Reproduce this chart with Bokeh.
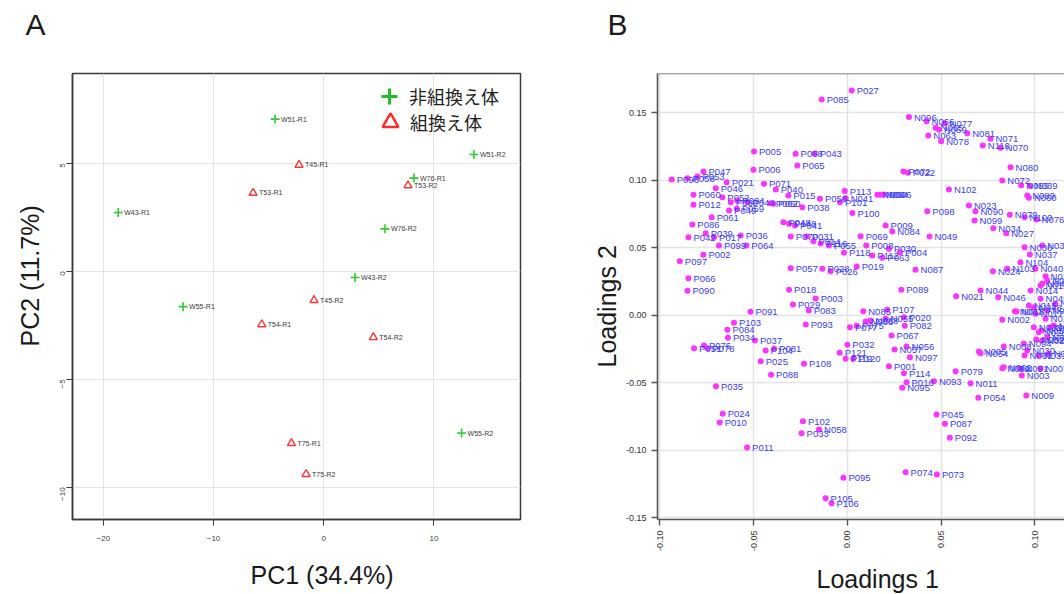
import math
from bokeh.plotting import figure
from bokeh.models import Legend, LegendItem, Range1d, FixedTicker, Span, Title
from bokeh.layouts import row
from bokeh.embed import file_html
from bokeh.resources import INLINE
from bokeh.core.properties import value

# ---------------- Panel A data (PCA scores) ----------------
nonrec_names = ["W51-R1", "W51-R2", "W76-R1", "W43-R1", "W76-R2", "W43-R2", "W55-R1", "W55-R2"]
nonrec_pc1 = [-4.41, 13.63, 8.19, -18.65, 5.56, 2.84, -12.76, 12.51]
nonrec_pc2 = [7.04, 5.40, 4.31, 2.72, 1.96, -0.29, -1.64, -7.49]

rec_names = ["T45-R1", "T53-R2", "T53-R1", "T45-R2", "T54-R1", "T54-R2", "T75-R1", "T75-R2"]
rec_pc1 = [-2.24, 7.65, -6.41, -0.88, -5.62, 4.50, -2.93, -1.60]
rec_pc2 = [4.92, 3.97, 3.62, -1.34, -2.46, -3.06, -7.96, -9.39]

legend_labels = ["非組換え体", "組換え体"]
a_xticks = [-20, -10, 0, 10]
a_yticks = [-10, -5, 0, 5]
a_xlabel = "PC1 (34.4%)"
a_ylabel = "PC2 (11.7%)"

# ---------------- Panel B data (loadings) ----------------
load_names = [
    "P027", "P085", "N096", "N066", "N077", "N065", "N069", "N063", "N078", "N081",
    "N071", "N110", "N070", "N080", "N072", "N059", "N039", "N089", "N060", "N102",
    "N023", "N090", "N099", "N079", "N100", "N076", "N034", "N027", "P098", "P005",
    "P068", "P043", "P065", "P006", "P047", "P096", "P058", "P053", "P021", "P071",
    "P046", "P040", "P060", "P015", "P012", "P052", "P080", "P094", "P044", "P062",
    "P050", "P049", "P059", "P061", "P038", "P086", "P048", "P148", "P041", "P113",
    "P056", "P101", "N041", "N004", "N064", "N006", "P100", "P072", "P022", "P009",
    "N084", "N049", "P069", "P055", "P116", "P008", "P030", "P004", "P063", "P118",
    "P112", "P019", "P028", "P026", "N087", "P089", "N021", "N044", "N046", "N024",
    "P003", "P083", "P093", "N085", "P107", "P077", "P075", "N086", "N088", "N055",
    "P020", "P082", "P067", "P032", "P121", "P119", "P120", "N057", "N056", "N097",
    "P001", "P114", "P079", "P016", "N093", "N095", "N011", "P054", "N009", "N003",
    "P045", "P087", "P092", "P074", "P073", "P095", "P105", "P106", "P102", "N058",
    "P033", "P011", "P024", "P010", "P035", "P088", "P039", "P042", "P017", "P036",
    "P099", "P064", "P002", "P097", "P066", "P090", "P091", "P103", "P084", "P034",
    "P037", "P051", "P076", "P078", "P104", "P081", "P025", "P108", "P057", "P018",
    "P029", "P070", "P031", "P014", "N103", "N104", "N013", "N012", "N015", "N018",
    "N002", "N017", "N019", "N020", "N025", "N028", "N029", "N094", "N008", "N030",
    "N031", "N032", "N092", "N091", "N033", "N035", "N036", "N037", "N038", "N040",
    "N042", "N043", "N045", "N047", "N048", "N050", "N051", "N052", "N053", "N054",
    "N005", "N061", "N062", "N007", "N014",
]
loadings1 = [
    0.0023, -0.0137, 0.0329, 0.0423, 0.0519, 0.0471, 0.0489, 0.0432, 0.0501, 0.0640,
    0.0764, 0.0723, 0.0818, 0.0871, 0.0827, 0.0928, 0.0974, 0.0960, 0.0969, 0.0542,
    0.0649, 0.0684, 0.0679, 0.0867, 0.0946, 0.1010, 0.0779, 0.0848, 0.0427, -0.0498,
    -0.0276, -0.0174, -0.0267, -0.0501, -0.0768, -0.0937, -0.0853, -0.0800, -0.0644, -0.0445,
    -0.0702, -0.0382, -0.0821, -0.0315, -0.0821, -0.0667, -0.0622, -0.0587, -0.0533, -0.0409,
    -0.0395, -0.0631, -0.0590, -0.0724, -0.0240, -0.0827, -0.0341, -0.0311, -0.0279, -0.0014,
    -0.0146, -0.0039, -0.0009, 0.0160, 0.0178, 0.0195, 0.0027, 0.0299, 0.0323, 0.0204,
    0.0240, 0.0439, 0.0071, -0.0098, -0.0142, 0.0101, 0.0222, 0.0281, 0.0187, -0.0018,
    0.0133, 0.0050, -0.0133, -0.0089, 0.0364, 0.0288, 0.0581, 0.0711, 0.0805, 0.0777,
    -0.0169, -0.0206, -0.0222, 0.0085, 0.0213, 0.0014, 0.0050, 0.0098, 0.0124, 0.0204,
    0.0302, 0.0306, 0.0236, 0.0000, -0.0041, -0.0009, 0.0032, 0.0252, 0.0316, 0.0334,
    0.0222, 0.0302, 0.0578, 0.0316, 0.0462, 0.0293, 0.0658, 0.0699, 0.0955, 0.0931,
    0.0476, 0.0521, 0.0547, 0.0311, 0.0478, -0.0021, -0.0116, -0.0084, -0.0237, -0.0151,
    -0.0244, -0.0535, -0.0665, -0.0681, -0.0701, -0.0407, -0.0756, -0.0848, -0.0711, -0.0569,
    -0.0685, -0.0539, -0.0768, -0.0894, -0.0848, -0.0853, -0.0517, -0.0605, -0.0640, -0.0637,
    -0.0493, -0.0818, -0.0765, -0.0747, -0.0436, -0.0391, -0.0462, -0.0231, -0.0302, -0.0311,
    -0.0290, -0.0302, -0.0217, -0.0181, 0.0853, 0.0924, 0.1058, 0.1031, 0.0969, 0.0903,
    0.0827, 0.1004, 0.1058, 0.1067, 0.1110, 0.1022, 0.1040, 0.0942, 0.0835, 0.0960,
    0.1022, 0.1075, 0.0827, 0.0924, 0.0995, 0.1102, 0.0946, 0.0974, 0.1040, 0.1004,
    0.1040, 0.1067, 0.1031, 0.0894, 0.0995, 0.1036, 0.1084, 0.1008, 0.1067, 0.0711,
    0.0702, 0.0946, 0.0835, 0.1031, 0.0978,
]
loadings2 = [
    0.1664, 0.1598, 0.1467, 0.1437, 0.1422, 0.1388, 0.1373, 0.1331, 0.1289, 0.1348,
    0.1307, 0.1257, 0.1240, 0.1096, 0.0998, 0.0963, 0.0959, 0.0887, 0.0870, 0.0931,
    0.0813, 0.0770, 0.0701, 0.0744, 0.0726, 0.0709, 0.0644, 0.0607, 0.0770, 0.1213,
    0.1196, 0.1198, 0.1109, 0.1077, 0.1064, 0.1005, 0.1015, 0.1027, 0.0985, 0.0973,
    0.0941, 0.0931, 0.0892, 0.0887, 0.0818, 0.0874, 0.0837, 0.0850, 0.0837, 0.0830,
    0.0825, 0.0776, 0.0788, 0.0726, 0.0800, 0.0672, 0.0689, 0.0677, 0.0664, 0.0919,
    0.0862, 0.0837, 0.0867, 0.0892, 0.0892, 0.0894, 0.0756, 0.1064, 0.1055, 0.0664,
    0.0620, 0.0583, 0.0585, 0.0516, 0.0531, 0.0516, 0.0492, 0.0467, 0.0425, 0.0462,
    0.0442, 0.0361, 0.0344, 0.0326, 0.0336, 0.0188, 0.0141, 0.0183, 0.0133, 0.0326,
    0.0124, 0.0035, -0.0069, 0.0030, 0.0040, -0.0089, -0.0079, -0.0047, -0.0039, -0.0027,
    -0.0015, -0.0079, -0.0150, -0.0219, -0.0279, -0.0323, -0.0323, -0.0254, -0.0232, -0.0311,
    -0.0378, -0.0430, -0.0415, -0.0496, -0.0489, -0.0538, -0.0504, -0.0612, -0.0595, -0.0447,
    -0.0736, -0.0804, -0.0908, -0.1163, -0.1180, -0.1204, -0.1356, -0.1393, -0.0785, -0.0847,
    -0.0874, -0.0980, -0.0730, -0.0795, -0.0526, -0.0441, 0.0607, 0.0578, 0.0578, 0.0590,
    0.0516, 0.0516, 0.0447, 0.0400, 0.0274, 0.0181, 0.0025, -0.0056, -0.0108, -0.0167,
    -0.0187, -0.0244, -0.0224, -0.0244, -0.0261, -0.0249, -0.0341, -0.0360, 0.0348, 0.0188,
    0.0079, 0.0583, 0.0583, 0.0548, 0.0344, 0.0393, 0.0289, 0.0220, 0.0072, 0.0027,
    -0.0034, 0.0010, -0.0027, 0.0035, 0.0084, -0.0126, -0.0187, -0.0212, -0.0232, -0.0261,
    -0.0299, -0.0286, -0.0393, -0.0397, -0.0089, -0.0076, 0.0504, 0.0450, 0.0516, 0.0344,
    0.0233, 0.0257, 0.0121, 0.0030, 0.0059, -0.0113, -0.0089, -0.0180, -0.0163, -0.0281,
    -0.0269, -0.0299, -0.0385, -0.0395, 0.0183,
]
b_ticks = [-0.15, -0.10, -0.05, 0.0, 0.05, 0.10, 0.15]
b_tick_labels = ["-0.15", "-0.10", "-0.05", "0.00", "0.05", "0.10", "0.15"]
b_xlabel = "Loadings 1"
b_ylabel = "Loadings 2"

FONT = "Liberation Sans"
JP_FONT = "Noto Sans CJK JP"


def add_title(p, text, side, offset, standoff, size, valign="bottom", line_height=1.2,
              fallback=None):
    kw = dict(text=text, align="left", offset=offset, vertical_align=valign, text_font=FONT,
              text_font_size=size, text_font_style="normal", text_color="#1a1a1a")
    try:
        t = Title(standoff=standoff, text_line_height=line_height, **kw)
    except Exception:
        fs, flh = fallback
        t = Title(standoff=fs, text_line_height=flh, **kw)
    p.add_layout(t, side)


# ---------------- Panel A ----------------
pA = figure(width=590, height=594, x_range=Range1d(-22.8, 17.86), y_range=Range1d(-11.49, 9.15),
            output_backend="svg", toolbar_location=None,
            min_border_left=72, min_border_right=70, min_border_top=73, min_border_bottom=73)
pA.outline_line_color = "#3a3a3a"
pA.outline_line_width = 1.5
pA.xaxis.ticker = FixedTicker(ticks=a_xticks)
pA.yaxis.ticker = FixedTicker(ticks=a_yticks)
pA.yaxis.major_label_orientation = math.pi / 2
for ax in (pA.xaxis[0], pA.yaxis[0]):
    ax.axis_line_color = "#3a3a3a"
    ax.axis_line_width = 1.5
    ax.major_tick_line_color = "#3a3a3a"
    ax.major_tick_out = 6
    ax.major_tick_in = 0
    ax.minor_tick_line_color = None
    ax.major_label_text_font_size = "8px"
    ax.major_label_text_color = "#444444"
    ax.major_label_text_font = FONT
pA.xaxis.major_label_standoff = 10
pA.yaxis.major_label_standoff = 4
pA.grid.grid_line_color = "#e4e4e4"
pA.grid.grid_line_width = 1

pA.scatter(nonrec_pc1, nonrec_pc2, marker="cross", size=9, line_color="#2ecc2e", line_width=1.6)
pA.scatter(rec_pc1, rec_pc2, marker="triangle", size=8, line_color="#ff3333",
           fill_color=None, line_width=1.4)
pA.text(nonrec_pc1, nonrec_pc2, text=nonrec_names, x_offset=6, text_baseline="middle",
        text_font_size="7px", text_color="#3a3a3a", text_font=value(FONT))
pA.text(rec_pc1, rec_pc2, text=rec_names, x_offset=6, text_baseline="middle",
        text_font_size="7px", text_color="#3a3a3a", text_font=value(FONT))

# legend-only renderers (same data, hidden) with bolder strokes
leg_g = pA.scatter(nonrec_pc1, nonrec_pc2, marker="cross", line_color="#22bb22", line_width=3,
                   visible=False)
leg_r = pA.scatter(rec_pc1, rec_pc2, marker="triangle", line_color="#ff2a2a",
                   fill_color=None, line_width=2.5, visible=False)
for lab, rend, loc in ((legend_labels[0], leg_g, (297, 403)), (legend_labels[1], leg_r, (298, 377))):
    lg = Legend(items=[LegendItem(label=lab, renderers=[rend])], location=loc,
                glyph_width=40, glyph_height=40, label_height=20, label_standoff=0,
                padding=0, margin=0, border_line_color=None, background_fill_alpha=0,
                inactive_fill_alpha=0, click_policy="none",
                label_text_font=JP_FONT, label_text_font_size="18px",
                label_text_color="#222222")
    pA.add_layout(lg)

add_title(pA, "A\n", "above", -47, 0, "30px", valign="top", line_height=0.94)
add_title(pA, "\n" + a_xlabel, "below", 178, -14, "25px", valign="top", line_height=0.89,
          fallback=(0, 0.49))
add_title(pA, a_ylabel, "left", 173, 22, "25px")

# ---------------- Panel B ----------------
pB = figure(width=474, height=594, x_range=Range1d(-0.1013, 0.1159), y_range=Range1d(-0.1513, 0.1790),
            output_backend="svg", toolbar_location=None,
            min_border_left=67, min_border_right=0, min_border_top=73, min_border_bottom=75)
pB.outline_line_color = None
pB.xaxis.ticker = FixedTicker(ticks=b_ticks)
pB.yaxis.ticker = FixedTicker(ticks=b_ticks)
pB.xaxis.major_label_overrides = dict(zip(b_ticks, b_tick_labels))
pB.yaxis.major_label_overrides = dict(zip(b_ticks, b_tick_labels))
pB.xaxis.major_label_orientation = math.pi / 2
for ax in (pB.xaxis[0], pB.yaxis[0]):
    ax.axis_line_color = "#555555"
    ax.axis_line_width = 1.6
    ax.major_tick_line_color = "#555555"
    ax.major_tick_line_width = 1.4
    ax.major_tick_out = 6
    ax.major_tick_in = 0
    ax.minor_tick_line_color = None
    ax.major_label_text_font_size = "9px"
    ax.major_label_text_color = "#333333"
    ax.major_label_text_font = FONT
    ax.major_label_standoff = 5
pB.grid.grid_line_color = "#e4e4e4"
pB.grid.grid_line_width = 1.5
pB.add_layout(Span(location=0.1790, dimension="width", line_color="#555555", line_width=1.6))

pB.scatter(loadings1, loadings2, size=6, fill_color="#ff33ff", line_color=None)
pB.text(loadings1, loadings2, text=load_names, x_offset=5, text_baseline="middle",
        text_font_size="9.5px", text_color="#3b3bff", text_font=value(FONT))

add_title(pB, "B\n", "above", -50, 0, "30px", valign="top", line_height=0.94)
add_title(pB, "\n" + b_xlabel, "below", 159, -4, "25px", valign="top", line_height=0.43,
          fallback=(0, 0.33))
add_title(pB, b_ylabel, "left", 152, 0, "25px", valign="top")

layout = row(pA, pB)
open("out.html", "w").write(file_html(layout, INLINE))
